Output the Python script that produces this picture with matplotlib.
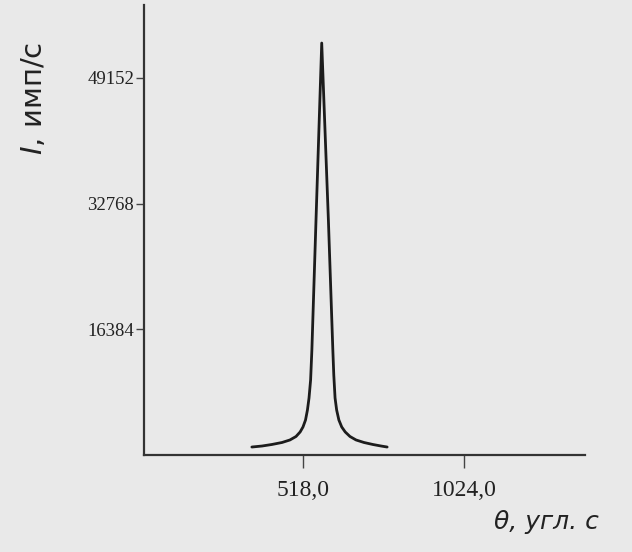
import matplotlib
matplotlib.use("Agg")
import matplotlib.pyplot as plt

# Data
theta = [356, 388, 419, 451, 476, 495, 508, 517, 525, 531, 536, 541, 545, 558, 576,
         597, 611, 614, 618, 623, 630, 639, 650, 665, 684, 709, 737, 763, 782]
counts = [1040, 1170, 1370, 1630, 1960, 2410, 3000, 3650, 4560, 5860, 7430, 9770, 13680, 30620, 53680,
          30620, 13680, 10420, 7430, 5860, 4560, 3650, 3000, 2410, 1960, 1630, 1370, 1170, 1040]
x_ticks = [518.0, 1024.0]
x_tick_labels = ["518,0", "1024,0"]
y_ticks = [16384, 32768, 49152]
y_tick_labels = ["16384", "32768", "49152"]

bg = "#e9e9e9"
ink = "#1c1c1c"

fig = plt.figure(figsize=(6.32, 5.52), dpi=100, facecolor=bg)
ax = fig.add_axes([144/632, 97/552, 441/632, 450/552], facecolor=bg)

ax.plot(theta, counts, color=ink, lw=2.0, solid_joinstyle="round", solid_capstyle="round")

ax.set_xlim(16.4, 1405)
ax.set_ylim(0, 58635)

for s in ["top", "right"]:
    ax.spines[s].set_visible(False)
for s in ["left", "bottom"]:
    ax.spines[s].set_color("#333333")
    ax.spines[s].set_linewidth(1.6)

ax.set_xticks(x_ticks)
ax.set_xticklabels(x_tick_labels, fontfamily="Liberation Serif", fontsize=17, color="#222222")
ax.set_yticks(y_ticks)
ax.set_yticklabels(y_tick_labels, fontfamily="Liberation Serif", fontsize=13.5, color="#222222")
ax.tick_params(axis="x", direction="out", length=9, width=1.0, color="#444444", pad=9)
ax.tick_params(axis="y", direction="out", length=6, width=1.0, color="#444444", pad=1)

fig.text(34/632, 1 - 98/552, "$I$, имп/с", rotation=90, ha="center", va="center",
         fontsize=21, fontfamily="DejaVu Sans", color="#222222")
fig.text(546/632, 1 - 522/552, "θ, угл. с", ha="center", va="center",
         fontsize=18, fontfamily="DejaVu Sans", style="italic", color="#222222")

fig.savefig("out.png", dpi=100, facecolor=bg)
